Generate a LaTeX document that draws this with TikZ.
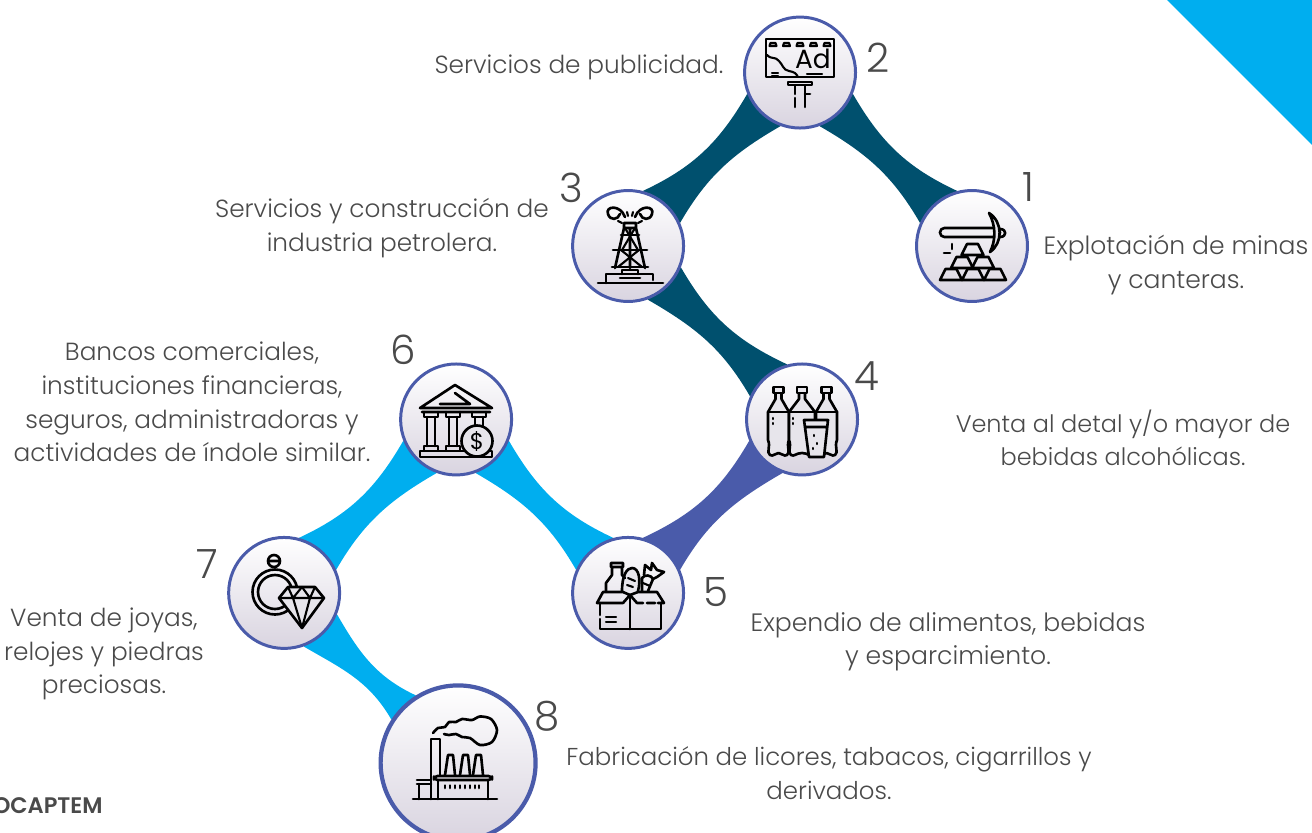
\documentclass[tikz,border=0pt]{standalone}
\usepackage{fontspec}
\setmainfont{Poppins Light}
\newfontfamily\capfont{Poppins SemiBold}
\newfontfamily\iconfont{Poppins}
\usetikzlibrary{positioning, backgrounds}
\definecolor{petrol}{HTML}{00506E}
\definecolor{skyblue}{HTML}{00AEEF}
\definecolor{ringblue}{HTML}{4A5BAA}
\definecolor{inkgray}{HTML}{4A4A4A}
\definecolor{iconfill}{HTML}{E7E5EB}
\definecolor{stopend}{HTML}{D9D4E0}
\tikzset{
  stop/.style={circle, draw=ringblue, line width=1.7pt, inner sep=0pt, minimum size=2.22cm,
    top color=white, bottom color=stopend},
  bigstop/.style={stop, line width=2.4pt, minimum size=3.1cm},
  caption/.style={align=center, text=inkgray, inner sep=0pt, font=\fontsize{#1}{19.1}\selectfont},
  caption/.default=14.1,
  numlabel/.style={text=inkgray, inner sep=0pt, font=\fontsize{23}{23}\selectfont},
  icon/.style={draw=black, line width=1.5pt, line join=round, line cap=round},
  thin icon/.style={icon, line width=1.2pt}
}
\begin{document}
\begin{tikzpicture}[x=0.02cm, y=-0.02cm, node distance=3.47cm and 3.44cm, on grid]
      \useasboundingbox (0,0) rectangle (1312,832);
      \fill[skyblue] (1167,0) -- (1312,0) -- (1312,145) -- cycle;

      \node[stop] (n1) at (972,246) {};
      \node[stop] (n2) [above left=of n1] {};
      \node[stop] (n3) [below left=of n2] {};
      \node[stop] (n4) [below right=3.47cm and 3.48cm of n3] {};
      \node[stop] (n5) [below left=3.47cm and 3.48cm of n4] {};
      \node[stop] (n6) [above left=of n5] {};
      \node[stop] (n7) [below left=of n6] {};
      \node[bigstop] (n8) [below right=3.4cm and 3.48cm of n7] {};

      \begin{scope}[on background layer]
        \fill[petrol] (n2.-22) to[out=-60, in=155] (n1.105) -- (n1.156) to[out=120, in=-30] (n2.-70) -- cycle;
        \fill[petrol] (n2.202) to[out=240, in=25] (n3.75) -- (n3.24) to[out=60, in=210] (n2.250) -- cycle;
        \fill[petrol] (n3.-22) to[out=-60, in=155] (n4.105) -- (n4.156) to[out=120, in=-30] (n3.-70) -- cycle;
        \fill[ringblue] (n4.202) to[out=240, in=25] (n5.75) -- (n5.24) to[out=60, in=210] (n4.250) -- cycle;
        \fill[skyblue] (n6.-22) to[out=-60, in=155] (n5.105) -- (n5.156) to[out=120, in=-30] (n6.-70) -- cycle;
        \fill[skyblue] (n6.202) to[out=240, in=25] (n7.75) -- (n7.24) to[out=60, in=210] (n6.250) -- cycle;
        \fill[skyblue] (n7.-22) to[out=-60, in=155] (n8.122) -- (n8.147) to[out=120, in=-30] (n7.-70) -- cycle;
      \end{scope}

      \node[numlabel] (num1) at (1028,187) {1};
      \node[numlabel] (num2) at (878,58) {2};
      \node[numlabel] (num3) at (571,188) {3};
      \node[numlabel] (num4) at (867,376) {4};
      \node[numlabel] (num5) at (716,592) {5};
      \node[numlabel] (num6) at (403,350) {6};
      \node[numlabel] (num7) at (207,564) {7};
      \node[numlabel] (num8) at (547,716) {8};

      \node[caption=14.25] (cap1) at (1176,265) {Explotación de minas\\y canteras.};
      \node[caption] (cap2) at (579,67) {Servicios de publicidad.};
      \node[caption] (cap3) at (382,228) {Servicios y construcción de\\industria petrolera.};
      \node[caption=13.65] (cap4) at (1123,438) {Venta al detal y/o mayor de\\bebidas alcohólicas.};
      \node[caption=14.3] (cap5) at (948,642) {Expendio de alimentos, bebidas\\y esparcimiento.};
      \node[caption] (cap6) at (192,402) {Bancos comerciales,\\instituciones financieras,\\seguros, administradoras y\\actividades de índole similar.};
      \node[caption] (cap7) at (104,654) {Venta de joyas,\\relojes y piedras\\preciosas.};
      \node[caption=13.9] (cap8) at (829,773) {Fabricación de licores, tabacos, cigarrillos y\\derivados.};
      \node[text=inkgray, anchor=east, inner sep=0pt, font=\capfont\fontsize{12.8}{14}\selectfont] (source) at (103,806) {OCAPTEM};

      \draw[icon] (766,39) rectangle (834,77);
      \foreach \x in {773,786.5,800,813.5,827}
        \draw[thin icon] (\x-3.5,46) -- (\x+3.5,46) -- (\x+2.5,43) -- (\x-2.5,43) -- cycle;
      \node[text=black, inner sep=0pt, font=\iconfont\fontsize{15}{15}\selectfont] (adtext) at (813,59) {Ad};
      \draw[thin icon] (767,55) .. controls (772,60) and (775,56) .. (779,61) .. controls (783,65) and (783,70) .. (789,71) .. controls (794,72) and (796,73) .. (798,77);
      \draw[thin icon] (772,73) -- (778,73) (772,76) -- (778,76) (807,74) -- (822,74);
      \draw[icon] (788,82) rectangle (812,85) (795,86) -- (795,94) (795,98) -- (795,107) (805,86) -- (805,107) (805,94) -- (810,94);

      \draw[icon, rounded corners=2.5pt] (940,228) rectangle (1000,237);
      \draw[icon, fill=iconfill] (989,213) .. controls (1003,222) and (1003,243) .. (990,252) .. controls (996,240) and (996,226) .. (989,213) -- cycle;
      \draw[icon] (1000,229) .. controls (1007,229) and (1007,237) .. (1000,237);
      \foreach \x/\y in {972.5/244,962/257,983/257,951/269,973/269,995/269}
        \draw[icon] (\x-5.5,\y) -- (\x+5.5,\y) -- (\x+11,\y+11) -- (\x-11,\y+11) -- cycle;
      \draw[icon] (952,244) -- (952,249) (944,253) -- (950,253);

      \draw[icon] (598,283) -- (663,283) (606,283) -- (606,274) -- (653,274) -- (653,280);
      \draw[icon] (622,274) -- (622,270) -- (638,270) -- (638,274) (620,278) -- (640,278);
      \draw[icon] (624,228) -- (615,268) (636,228) -- (645,268) (624,223) rectangle (636,228) (630,228) -- (630,268);
      \draw[icon] (621,235) -- (639,235) (613,250) -- (647,250) (612,267) -- (648,267);
      \draw[thin icon] (625,228) -- (638,250) (635,228) -- (622,250) (621,250) -- (642,267) (639,250) -- (618,267);
      \draw[icon] (625,217) .. controls (620,204) and (605,206) .. (608,214) .. controls (610,221) and (618,220) .. (620,214);
      \draw[icon] (635,217) .. controls (640,204) and (655,206) .. (652,214) .. controls (650,221) and (642,220) .. (640,214);
      \draw[thin icon] (627,212) -- (628,216) (633,212) -- (632,216) (618,221) -- (622,223) (642,221) -- (638,223);

      \draw[icon] (420,408) -- (455,385) -- (492,408) -- cycle (422,412) -- (490,412);
      \draw[icon] (440,404) -- (470,404) -- (455,393);
      \foreach \x in {431,453,479}
        \draw[icon] (\x-7,412) -- (\x-7,417) -- (\x+7,417) -- (\x+7,412) (\x-4,417) -- (\x-4,446) (\x+4,417) -- (\x+4,446) (\x-7,446) rectangle (\x+7,451);
      \draw[icon] (420,451) rectangle (492,457);
      \node[circle, draw=black, line width=1.5pt, fill=iconfill, minimum size=0.62cm, inner sep=0pt, text=black, font=\iconfont\fontsize{13}{13}\selectfont] (coin) at (477,441) {\$};

      \foreach \x/\w in {768/21,789/26,816/21}
        \draw[icon, fill=iconfill] (\x+\w/2-3,393) -- (\x+\w/2-3,399) -- (\x,412) -- (\x,440) .. controls (\x+3,447) and (\x-2,452) .. (\x+2,455) .. controls (\x+5,457) and (\x+7,453) .. (\x+\w/2,453) .. controls (\x+\w-7,453) and (\x+\w-5,457) .. (\x+\w-2,455) .. controls (\x+\w+2,452) and (\x+\w-3,447) .. (\x+\w,440) -- (\x+\w,412) -- (\x+\w/2+3,399) -- (\x+\w/2+3,393);
      \foreach \x/\w in {768/21,789/26,816/21}
        \draw[icon, fill=iconfill] (\x+\w/2-5,387) rectangle (\x+\w/2+5,393) (\x,412) -- (\x+\w,412);
      \draw[thin icon] (773,418) -- (773,419) (773,423) -- (773,424) (793,418) -- (793,419) (793,423) -- (793,424);
      \draw[icon, fill=iconfill] (804,420) -- (828,420) -- (824,457) -- (809,457) -- cycle (805,427) -- (827,427);
      \draw[thin icon] (814,435) -- (814,436) (817,443) -- (817,444) (813,448) -- (813,449);

      \draw[icon, fill=iconfill] (622,591) .. controls (622,575) and (627,568) .. (632,568) .. controls (639,568) and (641,580) .. (638,591);
      \draw[thin icon] (628,578) -- (635,581) (627,585) -- (633,587);
      \draw[icon] (642,591) -- (642,578) .. controls (645,574) and (651,575) .. (653,579) -- (648,591);
      \draw[icon] (644,575) -- (645,565) -- (651,570) -- (652,563) -- (657,570) -- (664,572) -- (657,577) -- (653,579);
      \draw[thin icon] (643,583) -- (650,586);
      \draw[icon] (611,563) rectangle (623,567) (612,567) -- (612,575) -- (606,583) -- (606,591) (622,567) -- (622,575) -- (625,578);
      \draw[icon] (597,603) -- (603,592) -- (623,592) -- (630,595) -- (623,603) -- cycle;
      \draw[icon] (630,595) -- (638,592) -- (657,592) -- (664,603) -- (658,603) (655,603) -- (647,603) (643,603) -- (637,603) -- (630,595);
      \draw[icon] (600,603) -- (600,615) (600,619) -- (600,629) -- (661,629) -- (661,603) (630,595) -- (630,629);
      \draw[thin icon] (606,617) -- (616,617) (606,622) -- (616,622);

      \draw[icon] (274,561) circle (6) (268,561) -- (280,561);
      \draw[icon] (275,592) circle (22.5);
      \draw[icon] (275,592) circle (17);
      \draw[icon, fill=iconfill] (288,587) -- (315,587) -- (324,598) -- (302,628) -- (279,598) -- cycle;
      \draw[thin icon] (279,598) -- (324,598) (288,587) -- (293,598) -- (302,587) -- (310,598) -- (315,587) (293,598) -- (302,628) -- (310,598);

      \draw[icon] (413,799) -- (497,799) (431,799) -- (431,739) -- (440,739) -- (440,775);
      \draw[icon, rounded corners=2pt] (434,776) rectangle (492,780);
      \draw[icon] (438,780) -- (438,799) (488,780) -- (488,799) (419,784) -- (419,799) (417,780) -- (431,780) (417,784) -- (431,784);
      \foreach \x in {445,460,473}
        \draw[icon] (\x,775) -- (\x+3,755) -- (\x+8,755) -- (\x+10,775);
      \foreach \x in {445,450,455,460,465,470,475,479}
        \draw[icon] (\x,785.5) -- (\x,788);
      \draw[icon] plot[smooth] coordinates {(433,733) (438,728) (445,727) (449,722) (456,722) (462,719) (472,720) (480,716.5) (491,719) (497,730) (492,742) (480,745) (470,738) (462,737) (456,734) (449,735) (444,734)};
\end{tikzpicture}
\end{document}
